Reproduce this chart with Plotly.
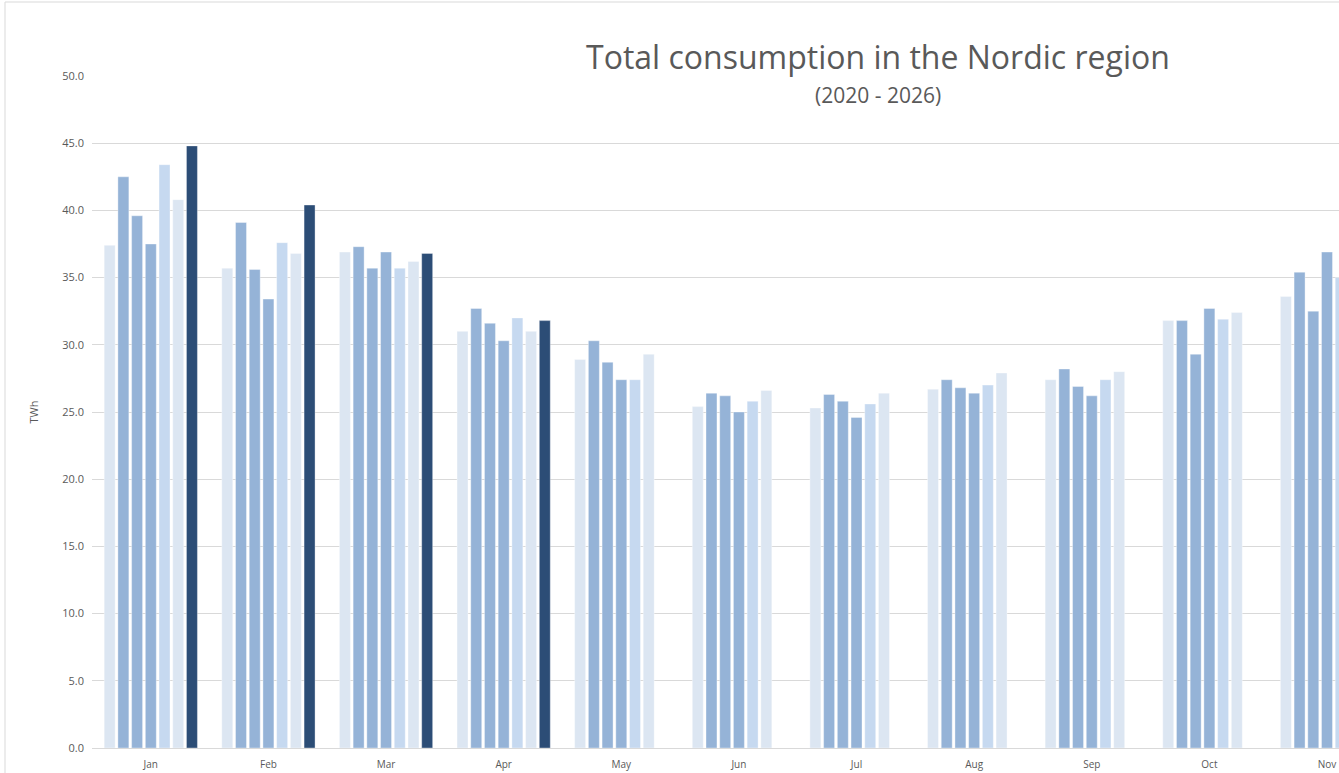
import plotly.graph_objects as go

months = ["Jan", "Feb", "Mar", "Apr", "May", "Jun", "Jul", "Aug", "Sep", "Oct", "Nov"]
years = ["2020", "2021", "2022", "2023", "2024", "2025", "2026"]

v2020 = [37.4, 35.7, 36.9, 31.0, 28.9, 25.4, 25.3, 26.7, 27.4, 31.8, 33.6]
v2021 = [42.5, 39.1, 37.3, 32.7, 30.3, 26.4, 26.3, 27.4, 28.2, 31.8, 35.4]
v2022 = [39.6, 35.6, 35.7, 31.6, 28.7, 26.2, 25.8, 26.8, 26.9, 29.3, 32.5]
v2023 = [37.5, 33.4, 36.9, 30.3, 27.4, 25.0, 24.6, 26.4, 26.2, 32.7, 36.9]
v2024 = [43.4, 37.6, 35.7, 32.0, 27.4, 25.8, 25.6, 27.0, 27.4, 31.9, 35.0]
v2025 = [40.8, 36.8, 36.2, 31.0, 29.3, 26.6, 26.4, 27.9, 28.0, 32.4, None]
v2026 = [44.8, 40.4, 36.8, 31.8, None, None, None, None, None, None, None]

series = [v2020, v2021, v2022, v2023, v2024, v2025, v2026]
colors = ["#dce6f2", "#95b3d7", "#95b3d7", "#95b3d7", "#c6d9f0", "#dce6f2", "#2c4d76"]

fig = go.Figure()
for name, vals, col in zip(years, series, colors):
    fig.add_trace(go.Bar(
        x=months, y=vals, name=name,
        marker=dict(color=col, line=dict(color="rgba(255,255,255,0.6)", width=0.6)),
    ))

W, H = 1339, 773
L, R, T, B = 92, 0, 76, 25
pw = W - L - R
ph = H - T - B

def px_x(x):
    return (x - L) / pw

def px_y(y):
    return (H - B - y) / ph

fig.update_layout(
    width=W, height=H,
    margin=dict(l=L, r=R, t=T, b=B),
    paper_bgcolor="white", plot_bgcolor="white",
    barmode="group", bargap=0.184, bargroupgap=0.2,
    showlegend=False,
    font=dict(family="Open Sans", color="#595959"),
    xaxis=dict(
        type="category",
        range=[-0.5, (1339 - 151) / 117.6],
        showgrid=False, showline=True, linecolor="#d9d9d9", linewidth=1,
        ticks="", tickfont=dict(size=10, color="#595959"),
        ticklabelstandoff=7,
    ),
    yaxis=dict(
        range=[0, 50], dtick=5, tickformat=".1f",
        showgrid=True, gridcolor="#d9d9d9", gridwidth=1,
        zeroline=False, showline=False,
        tickfont=dict(size=11, color="#595959"),
        ticklabelstandoff=7,
        title=dict(text="TWh", font=dict(size=11, color="#595959"), standoff=21),
    ),
    annotations=[
        dict(text="Total consumption in the Nordic region", xref="paper", yref="paper",
             x=px_x(878), y=px_y(56), xanchor="center", yanchor="middle", showarrow=False,
             font=dict(size=32, color="#595959", family="Open Sans")),
        dict(text="(2020 - 2026)", xref="paper", yref="paper",
             x=px_x(878), y=px_y(95), xanchor="center", yanchor="middle", showarrow=False,
             font=dict(size=21, color="#595959", family="Open Sans")),
    ],
    shapes=[
        dict(type="line", xref="paper", yref="paper", x0=px_x(5), x1=px_x(5), y0=px_y(2), y1=px_y(780),
             line=dict(color="#d9d9d9", width=1)),
        dict(type="line", xref="paper", yref="paper", x0=px_x(5), x1=px_x(1345), y0=px_y(2), y1=px_y(2),
             line=dict(color="#d9d9d9", width=1)),
    ],
)

fig.write_html(
    "out.html",
    config={"displayModeBar": False},
    post_script="document.body.style.margin='0';document.body.style.overflow='hidden';",
)
